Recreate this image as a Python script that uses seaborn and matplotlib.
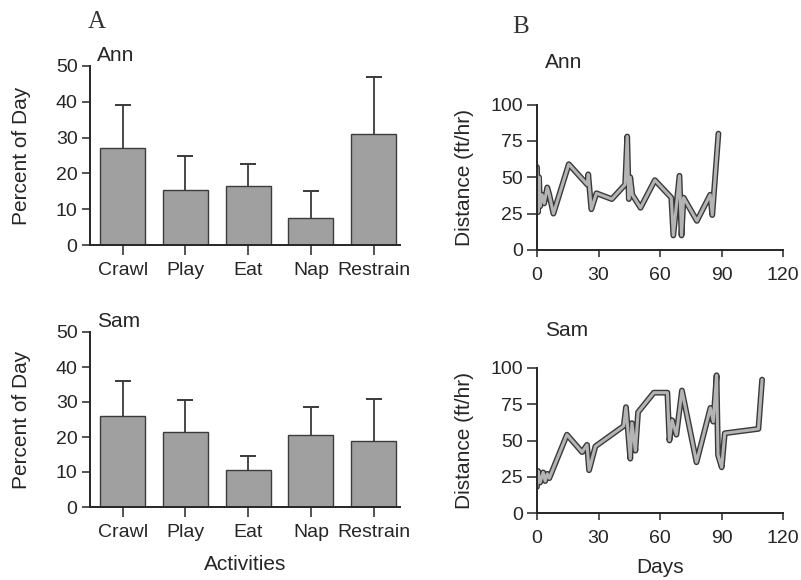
import numpy as np
import pandas as pd
import matplotlib
matplotlib.use("Agg")
import matplotlib.pyplot as plt
import matplotlib.patheffects as pe
import seaborn as sns

# ---------------- data ----------------
activities = ["Crawl", "Play", "Eat", "Nap", "Restrain"]
ann_pct = [27, 15.5, 16.5, 7.5, 31]
ann_pct_upper = [39, 25, 22.5, 15, 47]
sam_pct = [26, 21.5, 10.5, 20.5, 19]
sam_pct_upper = [36, 30.5, 14.5, 28.5, 31]

ann_days = [0, 0.5, 1.0, 1.5, 2.5, 3.5, 5, 6, 8, 15.5, 24.5, 25, 26.5, 29, 36.5,
            43, 44, 44.8, 45.5, 46.5, 50.5, 57.5, 65.5, 66.5, 69.5, 70.5, 71.5,
            78, 84.5, 85.5, 88.5]
ann_dist = [57, 26, 50, 30, 38, 32, 43, 38, 25, 59, 45, 52, 28, 39, 35,
            45, 78, 35, 50, 38, 29, 48, 36, 10, 51, 10, 36,
            20, 38, 24, 80]

sam_days = [0, 0.5, 1.5, 3, 4, 5, 6, 14.6, 22, 24.4, 25.4, 28.5, 42.3, 43.4,
            45.5, 46.3, 48, 49.3, 57, 63.6, 64.6, 65.9, 68, 70.7, 77.8, 84.6,
            86, 87.6, 88.3, 90.1, 91.6, 108, 109.8]
sam_dist = [18, 29, 21, 28, 22, 27, 24, 54, 42, 47, 29.5, 46, 60, 73,
            37.5, 62, 43, 69.5, 83, 83, 50, 64, 54, 84.5, 35, 72.5,
            63, 95, 40, 31.5, 55, 58, 92]

day_ticks = [0, 30, 60, 90, 120]
pct_ticks = [0, 10, 20, 30, 40, 50]
dist_ticks = [0, 25, 50, 75, 100]

# ---------------- style ----------------
sns.set_style("ticks")
plt.rcParams["font.family"] = ["Liberation Sans", "DejaVu Sans"]
plt.rcParams["axes.linewidth"] = 1.4

W, H = 801, 580
fig = plt.figure(figsize=(W / 100, H / 100), dpi=100)

def px_axes(x0, x1, y_top, y_bot):
    return fig.add_axes([x0 / W, 1 - y_bot / H, (x1 - x0) / W, (y_bot - y_top) / H])

ink = "#262626"
bar_color = "#a0a0a0"
TS = 14

def bar_panel(ax, vals, upper, name):
    sns.barplot(x=activities, y=vals, ax=ax, color=bar_color, saturation=1,
                edgecolor="#3c3c3c", linewidth=1.0, width=0.72, errorbar=None)
    pos = np.arange(len(activities))
    v = np.array(vals)
    u = np.array(upper)
    ax.errorbar(pos, v, yerr=[np.zeros_like(v), u - v], fmt="none",
                ecolor="#3a3a3a", elinewidth=1.3, capsize=0, zorder=3)
    ax.plot(pos, u, ls="none", marker="_", markersize=11, mew=1.4,
            color="#3a3a3a", zorder=3)
    ax.set_xlim(-0.52, 4.42)
    ax.set_ylim(0, 50)
    ax.set_yticks(pct_ticks)
    ax.set_ylabel("Percent of Day", fontsize=15, color=ink)
    ax.yaxis.set_label_coords(-0.19, 0.5)
    ax.set_xlabel("")
    ax.tick_params(axis="x", length=7, width=1.1, pad=5, labelsize=TS, colors=ink)
    ax.tick_params(axis="y", length=6, width=1.1, pad=3, labelsize=TS, colors=ink)
    for s in ["top", "right"]:
        ax.spines[s].set_visible(False)
    for s in ["left", "bottom"]:
        ax.spines[s].set_color(ink)
    ax.text(0.022, 1.06, name, transform=ax.transAxes, fontsize=15,
            color=ink, ha="left", va="center")

def line_panel(ax, days, dist, name):
    sns.lineplot(x=days, y=dist, ax=ax, sort=False, estimator=None,
                 color="#b4b4b4", linewidth=2.2,
                 path_effects=[pe.Stroke(linewidth=4.2, foreground="#3a3a3a"), pe.Normal()])
    ax.set_xlim(0, 120)
    ax.set_ylim(0, 100)
    ax.set_xticks(day_ticks)
    ax.set_yticks(dist_ticks)
    ax.set_ylabel("Distance (ft/hr)", fontsize=15, color=ink)
    ax.yaxis.set_label_coords(-0.255, 0.5)
    ax.tick_params(axis="x", length=5, width=1.1, pad=7, labelsize=TS, colors=ink)
    ax.tick_params(axis="y", length=7, width=1.1, pad=3, labelsize=TS, colors=ink)
    for s in ["top", "right"]:
        ax.spines[s].set_visible(False)
    for s in ["left", "bottom"]:
        ax.spines[s].set_color(ink)

ax1 = px_axes(90, 400, 66, 245)
bar_panel(ax1, ann_pct, ann_pct_upper, "Ann")

ax2 = px_axes(90, 400, 332, 507)
bar_panel(ax2, sam_pct, sam_pct_upper, "Sam")
ax2.set_xlabel("Activities", fontsize=15, color=ink, labelpad=10)

ax3 = px_axes(537, 783, 104.5, 250)
line_panel(ax3, ann_days, ann_dist, "Ann")
ax3.set_xlabel("")

ax4 = px_axes(537, 783, 368, 513)
line_panel(ax4, sam_days, sam_dist, "Sam")
ax4.set_xlabel("Days", fontsize=15, color=ink, labelpad=8)

# panel titles and subject names
fig.text(97 / W, 1 - 22 / H, "A", fontsize=18, family=["Liberation Serif"],
         color="#333333", ha="center", va="center")
fig.text(521 / W, 1 - 27 / H, "B", fontsize=18, family=["Liberation Serif"],
         color="#333333", ha="center", va="center")
fig.text(545 / W, 1 - 63 / H, "Ann", fontsize=15, color=ink, ha="left", va="center")
fig.text(545 / W, 1 - 330 / H, "Sam", fontsize=15, color=ink, ha="left", va="center")

fig.savefig("out.png", dpi=100, facecolor="white")
